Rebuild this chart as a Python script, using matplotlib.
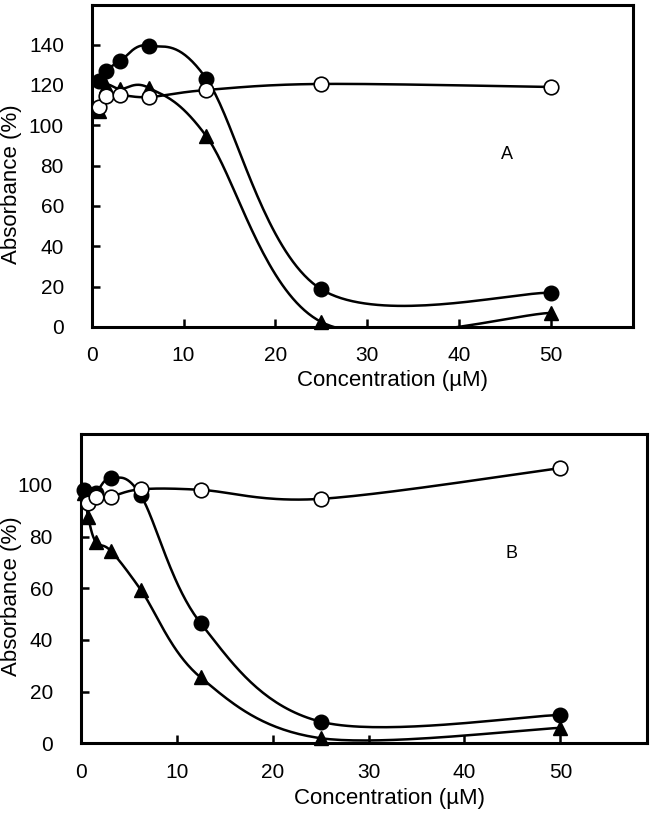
import numpy as np
import matplotlib.pyplot as plt

plt.rcParams['font.family'] = ['Liberation Sans', 'DejaVu Sans']

# ---------------- data ----------------
# panel A
a_open_x = [0.78, 1.56, 3.125, 6.25, 12.5, 25, 50]
a_open_y = [109, 114.5, 115, 114, 117.5, 120.5, 119]

a_fill_x = [0.78, 1.56, 3.125, 6.25, 12.5, 25, 50]
a_fill_y = [122, 127, 132, 139.5, 123, 18.7, 17]

a_tri_x = [0.78, 1.56, 3.125, 6.25, 12.5, 25, 50]
a_tri_y = [107, 119.5, 118, 118.5, 94.5, 2.5, 7]

# panel B
b_open_x = [0.78, 1.56, 3.125, 6.25, 12.5, 25, 50]
b_open_y = [93, 95.2, 95.5, 98.3, 98.1, 94.6, 106.5]

b_fill_x = [0.39, 0.78, 1.56, 3.125, 6.25, 12.5, 25, 50]
b_fill_y = [98, 96.5, 97, 102.5, 96, 46.5, 8.4, 11]

b_tri_x = [0.39, 0.78, 1.56, 3.125, 6.25, 12.5, 25, 50]
b_tri_y = [97, 87.5, 78, 74.5, 59.5, 25.5, 2, 6]


def smooth(x, y, n=40):
    # Excel-like smoothed line (Catmull-Rom as cubic Bezier)
    p = np.column_stack([x, y]).astype(float)
    pts = []
    for i in range(len(p) - 1):
        p0 = p[i - 1] if i > 0 else p[i]
        p1 = p[i]
        p2 = p[i + 1]
        p3 = p[i + 2] if i + 2 < len(p) else p[i + 1]
        c1 = p1 + (p2 - p0) / 6
        c2 = p2 - (p3 - p1) / 6
        t = np.linspace(0, 1, n)[:, None]
        seg = ((1 - t) ** 3 * p1 + 3 * (1 - t) ** 2 * t * c1
               + 3 * (1 - t) * t ** 2 * c2 + t ** 3 * p2)
        pts.append(seg)
    pts = np.vstack(pts)
    return pts[:, 0], pts[:, 1]


def draw(ax, fx, fy, ox, oy, tx, ty):
    lw = 1.8
    sx, sy = smooth(fx, fy)
    ax.plot(sx, sy, color='black', lw=lw, zorder=2)
    sx, sy = smooth(tx, ty)
    ax.plot(sx, sy, color='black', lw=lw, zorder=2)
    sx, sy = smooth(ox, oy)
    ax.plot(sx, sy, color='black', lw=lw, zorder=2)
    ax.plot(fx, fy, 'o', color='black', ms=10.5, zorder=3, clip_on=False)
    ax.plot(tx, ty, '^', color='black', ms=10, zorder=4, clip_on=False)
    ax.plot(ox, oy, 'o', mfc='white', mec='black', mew=1.2, ms=10.5,
            zorder=5, clip_on=False)


def style(ax, ymax, yticks):
    ax.set_xlim(0, 59)
    ax.set_ylim(0, ymax)
    ax.set_xticks([0, 10, 20, 30, 40, 50])
    ax.set_yticks(yticks)
    for s in ax.spines.values():
        s.set_linewidth(2.2)
    ax.tick_params(direction='in', length=6, width=1.8, labelsize=15)
    ax.tick_params(axis='x', pad=14)
    ax.tick_params(axis='y', pad=20)


fig = plt.figure(figsize=(6.51, 8.14), dpi=100)

ax1 = fig.add_axes([0.1409, 0.5983, 0.832, 0.3952])
draw(ax1, a_fill_x, a_fill_y, a_open_x, a_open_y, a_tri_x, a_tri_y)
style(ax1, 159.5, [0, 20, 40, 60, 80, 100, 120, 140])
ax1.set_xlabel("Concentration (\u00b5M)", fontsize=16)
ax1.set_ylabel("Absorbance (%)", fontsize=16)
ax1.xaxis.set_label_coords(0.556, -0.135)
ax1.yaxis.set_label_coords(-0.128, 0.445)
ax1.text(45.2, 85.7, "A", fontsize=13, ha='center', va='center')

ax2 = fig.add_axes([0.124, 0.0868, 0.8694, 0.3797])
draw(ax2, b_fill_x, b_fill_y, b_open_x, b_open_y, b_tri_x, b_tri_y)
style(ax2, 119.6, [0, 20, 40, 60, 80, 100])
ax2.set_xlabel("Concentration (\u00b5M)", fontsize=16)
ax2.set_ylabel("Absorbance (%)", fontsize=16)
ax2.xaxis.set_label_coords(0.546, -0.143)
ax2.yaxis.set_label_coords(-0.103, 0.477)
ax2.text(44.9, 73.3, "B", fontsize=13, ha='center', va='center')

fig.savefig("out.png", dpi=100)
